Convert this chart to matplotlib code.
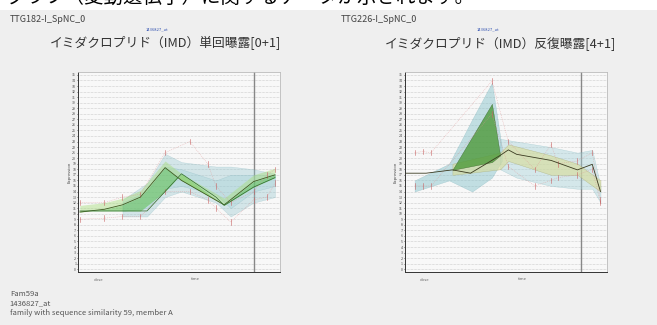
import numpy as np
import matplotlib.pyplot as plt
from matplotlib.patches import Rectangle

plt.rcParams['font.family'] = ['Noto Sans CJK JP', 'DejaVu Sans']

# ---- data ----
yticks = list(range(0, 36))

# left panel: single exposure [0+1]
L_x_a = [0, 7.5, 13, 18.5, 26, 31, 44, 53, 59.5]
L_y_a = [10.3, 10.8, 11.6, 13.0, 18.3, 16.0, 11.6, 15.8, 17.0]
L_x_b = [0, 7.5, 13, 20.5, 31, 41.5, 44, 53, 59.5]
L_y_b = [10.5, 10.5, 10.5, 10.5, 17.2, 13.0, 11.5, 14.8, 16.5]
L_band_x = [13, 20.5, 26, 31, 41.5, 46, 53, 59.5]
L_band_hi = [12.5, 15.5, 20.8, 19.3, 18.5, 18.5, 18.0, 17.2]
L_band_lo = [9.5, 9.5, 13.0, 14.0, 12.0, 9.5, 12.0, 13.0]
L_band2_hi = [12.0, 14.0, 18.5, 18.0, 16.0, 17.0, 17.0, 17.0]
L_band2_lo = [10.5, 11.0, 14.5, 15.0, 13.5, 11.0, 14.0, 15.0]
L_red_x = [0, 7.5, 13, 18.5, 26, 33.5, 39, 41.5, 46, 53, 57, 59.5]
L_red_hi = [12.0, 12.0, 13.0, 13.5, 21.0, 23.0, 19.0, 15.0, 12.0, 14.0, 17.0, 18.0]
L_red_lo = [9.0, 9.2, 9.5, 9.5, 14.0, 14.0, 12.5, 11.0, 8.5, 12.5, 13.0, 15.5]

# right panel: repeated exposure [4+1]
R_x_a = [0, 6, 14, 19.5, 28.5, 31, 33.5, 44, 52, 56.5, 59]
R_y_a = [17.3, 17.3, 17.9, 17.3, 20.5, 21.5, 20.7, 19.6, 17.9, 18.9, 14.0]
R_tri_x = [14, 26, 28.5]
R_tri_lo = [17.9, 19.3, 20.5]
R_tri_hi = [17.9, 29.8, 20.5]
R_blue_x = [2.5, 13, 20, 26, 29]
R_blue_hi = [16.0, 19.0, 27.0, 33.6, 22.0]
R_blue_lo = [14.0, 16.0, 14.0, 16.5, 19.5]
R_yel_x = [14, 28.5, 31, 44, 52, 59]
R_yel_hi = [19.0, 21.0, 22.5, 20.5, 19.0, 16.0]
R_yel_lo = [17.0, 18.0, 19.5, 17.0, 17.0, 14.0]
R_band_x = [28.5, 33.5, 44, 52, 56.5, 59]
R_band_hi = [23.5, 23.0, 22.0, 21.0, 21.5, 15.0]
R_band_lo = [18.0, 16.5, 15.0, 14.5, 14.5, 12.0]
R_red_x = [2.5, 5, 7.5, 26, 31, 39, 44, 46, 52, 56.5, 59]
R_red_hi = [21.0, 21.2, 21.0, 33.9, 23.0, 18.0, 22.5, 19.0, 19.5, 21.0, 12.5]
R_red_lo = [15.0, 15.0, 15.0, 28.0, 18.5, 15.0, 16.0, 16.5, 17.0, 18.0, 12.0]

fig = plt.figure(figsize=(6.57, 3.25), dpi=100)
fig.patch.set_facecolor('#efefef')
# white strip at the top with the cut-off sentence
fig.patches.append(Rectangle((0, 0.969), 1, 0.031, transform=fig.transFigure,
                             facecolor='white', edgecolor='none', zorder=0))
fig.text(0.01, 0.976, 'グラフ（変動遺伝子）に関するデータが示されます。', fontsize=14,
         color='black', va='bottom', ha='left')


def panel(ax):
    ax.set_facecolor('#f8f8f8')
    ax.set_xlim(-0.5, 61)
    ax.set_ylim(-0.5, 35.5)
    ax.set_yticks(yticks)
    ax.set_yticklabels([str(t) for t in yticks], fontsize=2.5, color='#444')
    ax.set_xticks([])
    ax.tick_params(axis='y', length=1, width=0.4, pad=0.5)
    for t in yticks:
        ax.axhline(t, color='#aaaaaa', lw=0.4, ls=(0, (1, 1.5)), zorder=0)
    ax.axvline(53, color='#888888', lw=1.0, zorder=1)
    for s in ['top', 'right']:
        ax.spines[s].set_color('#bbbbbb')
        ax.spines[s].set_linewidth(0.6)
    for s in ['left', 'bottom']:
        ax.spines[s].set_color('#333333')
        ax.spines[s].set_linewidth(0.7)
    ax.set_ylabel('Expression', fontsize=3, labelpad=0.5, color='#444')
    ax.text(0.1, -0.03, 'dose', transform=ax.transAxes, fontsize=3, color='#666',
            ha='center', va='top')
    ax.text(0.58, -0.025, 'time', transform=ax.transAxes, fontsize=3, color='#666',
            ha='center', va='top')


def red_marks(ax, x, hi, lo):
    ax.plot(x, hi, color='#e09090', lw=0.35, ls=(0, (2, 2)), alpha=0.7, zorder=3)
    ax.plot(x, lo, color='#e09090', lw=0.35, ls=(0, (2, 2)), alpha=0.7, zorder=3)
    for xi, h, l in zip(x, hi, lo):
        ax.plot([xi, xi], [h - 0.5, h + 0.5], color='#c86060', lw=0.4, zorder=4)
        ax.plot([xi, xi], [l - 0.5, l + 0.5], color='#c86060', lw=0.4, zorder=4)


# ---- left ----
axL = fig.add_axes([0.119, 0.163, 0.307, 0.615])
panel(axL)
axL.fill_between(L_band_x, L_band_lo, L_band_hi, color='#8ec3cc', alpha=0.35, lw=0.3,
                 edgecolor='#6aa6b0', zorder=1)
axL.fill_between(L_band_x, L_band2_lo, L_band2_hi, color='#9fcfd6', alpha=0.35, lw=0.3,
                 edgecolor='#6aa6b0', zorder=1)
axL.fill_between(L_x_a, L_y_a, np.interp(L_x_a, L_x_b, L_y_b), color='#5cbf4a', alpha=0.55,
                 lw=0, zorder=2)
axL.fill_between(L_x_a, np.array(L_y_a) + 1.2, L_y_a, color='#a6dc7a', alpha=0.45,
                 lw=0, zorder=2)
axL.plot(L_x_a, L_y_a, color='#3d5a20', lw=0.6, zorder=5)
axL.plot(L_x_b, L_y_b, color='#2f6a2a', lw=0.5, zorder=5)
red_marks(axL, L_red_x, L_red_hi, L_red_lo)

# ---- right ----
axR = fig.add_axes([0.616, 0.163, 0.308, 0.615])
panel(axR)
axR.fill_between(R_blue_x, R_blue_lo, R_blue_hi, color='#7fbfc8', alpha=0.45, lw=0.3,
                 edgecolor='#6aa6b0', zorder=1)
axR.fill_between(R_band_x, R_band_lo, R_band_hi, color='#9fcfd6', alpha=0.4, lw=0.3,
                 edgecolor='#6aa6b0', zorder=1)
axR.fill_between(R_yel_x, R_yel_lo, R_yel_hi, color='#d8dc98', alpha=0.6, lw=0.3,
                 edgecolor='#a0a060', zorder=2)
axR.fill_between(R_tri_x, R_tri_lo, R_tri_hi, color='#4e9a3a', alpha=0.8, lw=0.3,
                 edgecolor='#2f5a20', zorder=3)
axR.plot(R_x_a, R_y_a, color='#3a3a20', lw=0.6, zorder=5)
red_marks(axR, R_red_x, R_red_hi, R_red_lo)

# ---- header / footer texts ----
fig.text(0.015, 0.932, 'TTG182-I_SpNC_0', fontsize=6.5, color='#444')
fig.text(0.222, 0.908, '1436827_at', fontsize=3, color='#3050b0')
fig.text(0.252, 0.868, 'イミダクロプリド（IMD）単回曝露[0+1]', fontsize=9.2, color='#333',
         ha='center', va='center')
fig.text(0.518, 0.932, 'TTG226-I_SpNC_0', fontsize=6.5, color='#444')
fig.text(0.726, 0.908, '1436827_at', fontsize=3, color='#3050b0')
fig.text(0.762, 0.868, 'イミダクロプリド（IMD）反復曝露[4+1]', fontsize=9.2, color='#333',
         ha='center', va='center')

fig.text(0.015, 0.090, 'Fam59a', fontsize=5.5, color='#555')
fig.text(0.015, 0.060, '1436827_at', fontsize=5.5, color='#555')
fig.text(0.015, 0.030, 'family with sequence similarity 59, member A', fontsize=5.5,
         color='#555')

fig.savefig('out.png', dpi=100)
